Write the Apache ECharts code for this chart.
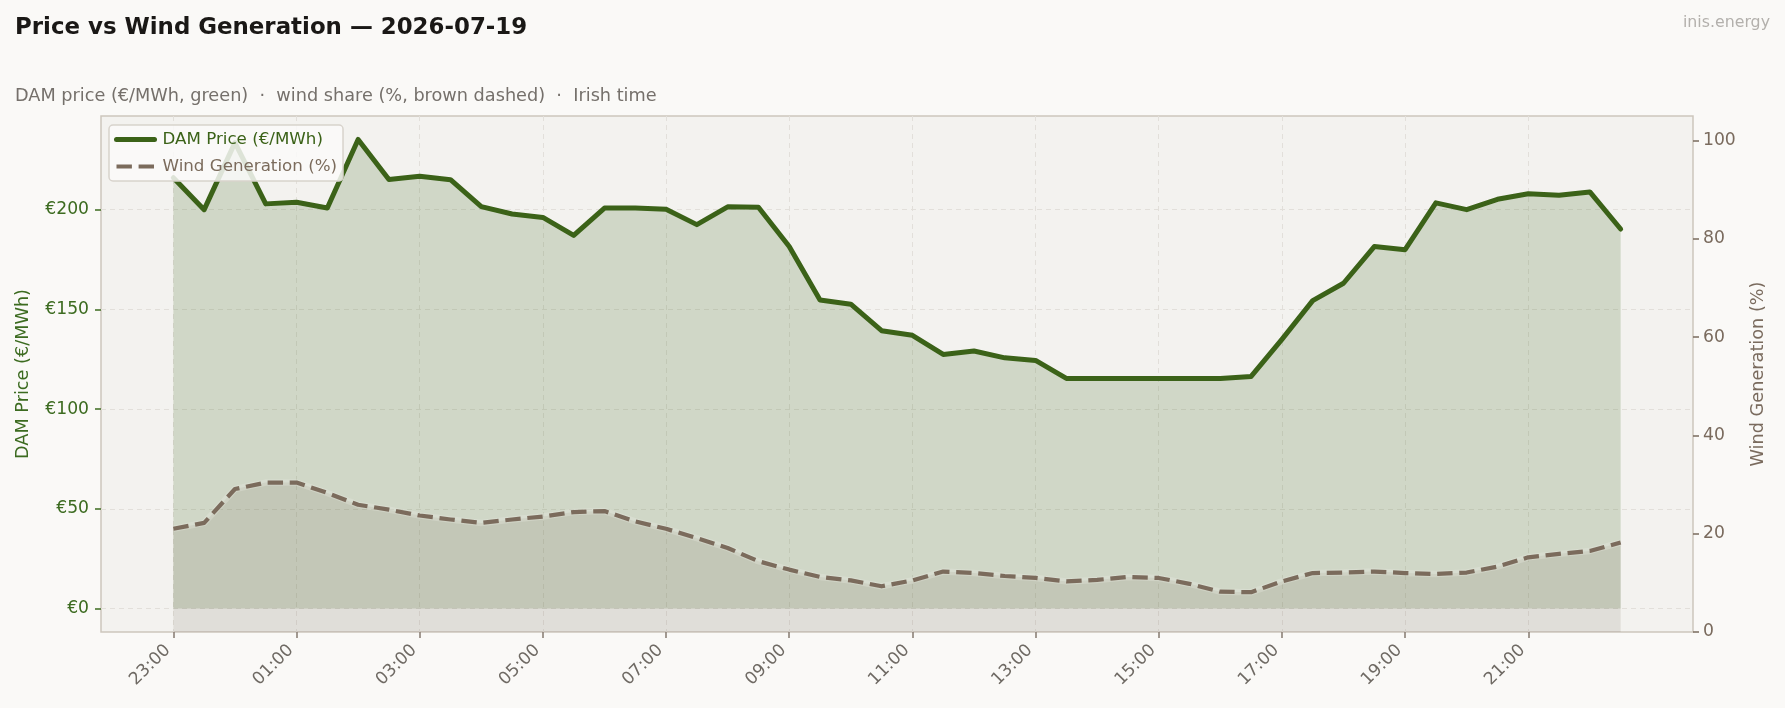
<!DOCTYPE html>
<html>
<head>
<meta charset="utf-8">
<script src="https://cdn.jsdelivr.net/npm/echarts@6/dist/echarts.min.js"></script>
<style>
  html, body { margin: 0; padding: 0; background: #faf9f7; }
  #chart { width: 1785px; height: 708px; }
</style>
</head>
<body>
<div id="chart"></div>
<script>
// half-hourly slots, Irish time
var timeLabels = [
  '23:00', '23:30', '00:00', '00:30', '01:00', '01:30', '02:00', '02:30',
  '03:00', '03:30', '04:00', '04:30', '05:00', '05:30', '06:00', '06:30',
  '07:00', '07:30', '08:00', '08:30', '09:00', '09:30', '10:00', '10:30',
  '11:00', '11:30', '12:00', '12:30', '13:00', '13:30', '14:00', '14:30',
  '15:00', '15:30', '16:00', '16:30', '17:00', '17:30', '18:00', '18:30',
  '19:00', '19:30', '20:00', '20:30', '21:00', '21:30', '22:00', '22:30'
];
// slots that carry a tick label
var xTicks = [0, 4, 8, 12, 16, 20, 24, 28, 32, 36, 40, 44];
var priceTicks = [0, 50, 100, 150, 200];
var windTicks = [0, 20, 40, 60, 80, 100];

// DAM price, €/MWh
var price = [
  216, 200, 233.6, 202.9, 203.7, 200.8, 235.2, 215.1, 216.7, 215,
  201.5, 197.8, 196.1, 187.1, 200.8, 200.8, 200.2, 192.5, 201.4, 201.2,
  181.5, 154.7, 152.6, 139.3, 137, 127.4, 129.1, 125.7, 124.4, 115.4,
  115.4, 115.4, 115.4, 115.4, 115.4, 116.4, 135, 154.4, 163.1, 181.5,
  179.9, 203.4, 200, 205.2, 208, 207.2, 208.9, 190.3
];
// wind share of generation, %
var wind = [
  21.0, 22.2, 29.1, 30.4, 30.4, 28.3, 25.9, 24.9, 23.7, 22.9,
  22.2, 22.9, 23.5, 24.4, 24.6, 22.5, 21.0, 19.1, 17.1, 14.4,
  12.7, 11.2, 10.5, 9.3, 10.5, 12.3, 12.0, 11.4, 11.0, 10.3,
  10.6, 11.2, 11.0, 9.8, 8.2, 8.1, 10.3, 12.0, 12.1, 12.3,
  12.0, 11.8, 12.1, 13.3, 15.2, 15.9, 16.5, 18.2
];

var green = '#3b6218';
var greenText = '#3c6b20';
var brown = '#7b6b5c';
var brownText = '#7a6b5e';
var font = 'DejaVu Sans';
var gridDash = { color: '#e2dfda', type: [5, 4], width: 1 };
var windDash = [15.4, 6.7];

var windPts = wind.map(function (v, i) { return [i, v]; });

var chart = echarts.init(document.getElementById('chart'), null, { renderer: 'canvas' });

chart.setOption({
  backgroundColor: '#faf9f7',
  animation: false,
  textStyle: { fontFamily: font },
  title: [{
    text: 'Price vs Wind Generation — 2026-07-19',
    left: 10, top: 12,
    textStyle: { fontFamily: font, fontSize: 22.9, fontWeight: 'bold', color: '#1a1816' }
  }, {
    text: 'DAM price (€/MWh, green)  ·  wind share (%, brown dashed)  ·  Irish time',
    left: 10, top: 82,
    textStyle: { fontFamily: font, fontSize: 17.7, fontWeight: 'normal', color: '#75706b' }
  }, {
    text: 'inis.energy',
    right: 10, top: 10,
    textStyle: { fontFamily: font, fontSize: 15.8, fontWeight: 'normal', color: '#b3b0ac' }
  }],
  legend: {
    orient: 'vertical',
    left: 109, top: 125,
    padding: [6, 6, 6, 5],
    itemGap: 10,
    itemWidth: 38, itemHeight: 16,
    itemStyle: { opacity: 0 },
    backgroundColor: 'rgba(250,250,249,0.85)',
    borderColor: '#d8d3cc', borderWidth: 1.5, borderRadius: 4,
    textStyle: { fontFamily: font, fontSize: 16.7, padding: [0, 0, 0, 3] },
    data: [
      { name: 'DAM Price (€/MWh)', textStyle: { color: green },
        lineStyle: { width: 5, color: green } },
      { name: 'Wind Generation (%)', textStyle: { color: brown },
        lineStyle: { width: 4.2, color: brown, type: windDash } }
    ]
  },
  grid: {
    left: 101, right: 92, top: 116, bottom: 76,
    show: true,
    backgroundColor: '#f3f2ef',
    borderColor: '#cdc6bd', borderWidth: 1.5
  },
  xAxis: {
    type: 'value',
    min: -2.35, max: 49.35,
    axisLine: { show: false, onZero: false },
    axisTick: { show: true, length: 6, lineStyle: { color: '#857a70', width: 1.5 }, customValues: xTicks },
    axisLabel: {
      customValues: xTicks,
      rotate: 45, margin: 10,
      padding: [0, 8, 0, 0],
      color: '#6f6a64', fontSize: 17.2, fontFamily: font,
      formatter: function (v) { return timeLabels[Math.round(v)]; }
    },
    splitLine: { show: true, lineStyle: gridDash }
  },
  yAxis: [{
    type: 'value',
    min: -11.76, max: 246.96,
    name: 'DAM Price (€/MWh)',
    nameLocation: 'middle', nameGap: 69,
    nameTextStyle: { color: greenText, fontSize: 17.7, fontFamily: font },
    axisLine: { show: false, onZero: false },
    axisTick: { show: true, length: 6, lineStyle: { color: greenText, width: 1.5 }, customValues: priceTicks },
    axisLabel: {
      customValues: priceTicks,
      color: greenText, fontSize: 17.2, fontFamily: font, margin: 12,
      formatter: function (v) { return '€' + v; }
    },
    splitLine: { show: true, lineStyle: gridDash }
  }, {
    type: 'value',
    min: 0, max: 105,
    name: 'Wind Generation (%)',
    nameLocation: 'middle', nameGap: 56,
    nameTextStyle: { color: brownText, fontSize: 17.7, fontFamily: font },
    axisLine: { show: false, onZero: false },
    axisTick: { show: true, length: 6, lineStyle: { color: brownText, width: 1.5 }, customValues: windTicks },
    axisLabel: {
      customValues: windTicks,
      color: brownText, fontSize: 17.2, fontFamily: font, margin: 10
    },
    splitLine: { show: false }
  }],
  series: [{
    name: 'DAM Price (€/MWh)',
    type: 'line',
    yAxisIndex: 0,
    data: price.map(function (v, i) { return [i, v]; }),
    symbol: 'none',
    lineStyle: { color: green, width: 5, join: 'round', cap: 'round' },
    itemStyle: { color: green },
    areaStyle: { color: 'rgba(58,99,24,0.19)', opacity: 1, origin: 'auto' },
    z: 2
  }, {
    // faint light halo under the dashed wind line
    name: 'wind halo',
    type: 'line',
    yAxisIndex: 1,
    data: windPts,
    symbol: 'none',
    silent: true,
    lineStyle: { color: 'rgba(235,235,228,0.3)', width: 6.5, join: 'round' },
    z: 3
  }, {
    name: 'Wind Generation (%)',
    type: 'line',
    yAxisIndex: 1,
    data: windPts,
    symbol: 'none',
    lineStyle: { color: brown, width: 4.2, type: windDash, join: 'round' },
    itemStyle: { color: brown },
    areaStyle: { color: 'rgba(123,107,92,0.15)', opacity: 1, origin: 'start' },
    z: 3
  }]
});
</script>
</body>
</html>
